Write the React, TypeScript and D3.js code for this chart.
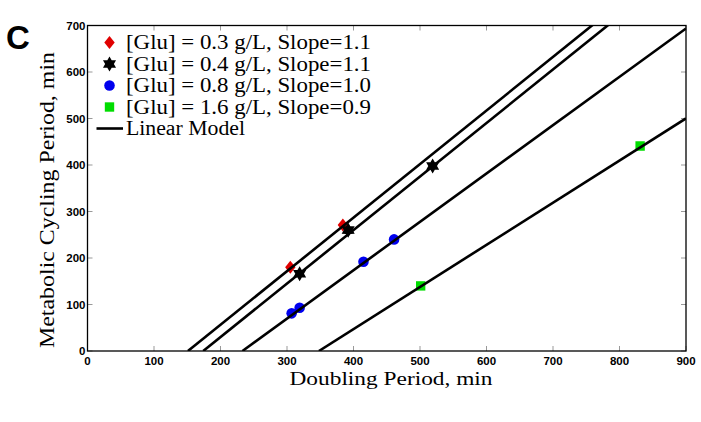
import React from "react";
import * as d3 from "d3";

// values (doubling period vs metabolic cycling period, minutes)
const seriesLabels = [
  "[Glu] = 0.3 g/L, Slope=1.1",
  "[Glu] = 0.4 g/L, Slope=1.1",
  "[Glu] = 0.8 g/L, Slope=1.0",
  "[Glu] = 1.6 g/L, Slope=0.9",
];
const seriesColors = ["#e00000", "#000000", "#0000ee", "#00dd00"];
const seriesShapes = ["diamond", "hexagram", "circle", "square"];

const glu03 = [
  { x: 305, y: 180 },
  { x: 384, y: 271 },
];
const glu04 = [
  { x: 319, y: 166 },
  { x: 392, y: 260 },
  { x: 519, y: 398 },
];
const glu08 = [
  { x: 307, y: 81 },
  { x: 319, y: 93 },
  { x: 415, y: 192 },
  { x: 461, y: 240 },
];
const glu16 = [
  { x: 501, y: 140 },
  { x: 831, y: 441 },
];
const seriesPoints = [glu03, glu04, glu08, glu16];

// linear model fits: x-intercept and slope
const fitIntercepts = [151, 174, 233, 348];
const fitSlopes = [1.152, 1.151, 1.04, 0.906];

const xTicks = [0, 100, 200, 300, 400, 500, 600, 700, 800, 900];
const yTicks = [0, 100, 200, 300, 400, 500, 600, 700];

const width = 701;
const height = 422;
const margin = { top: 25.5, right: 15, bottom: 71, left: 87.5 };

// six-pointed star like matlab's 'h' marker
const hexagram = {
  draw(ctx: any, size: number) {
    const R = Math.sqrt(size / 2.2);
    const r = R * 0.58;
    for (let i = 0; i < 12; i++) {
      const a = (Math.PI / 6) * i - Math.PI / 2;
      const rr = i % 2 === 0 ? R : r;
      const px = rr * Math.cos(a);
      const py = rr * Math.sin(a);
      if (i === 0) ctx.moveTo(px, py);
      else ctx.lineTo(px, py);
    }
    ctx.closePath();
  },
};

function markerPath(shape: string) {
  if (shape === "diamond") {
    // tall narrow diamond
    return "M0,-6.5L5.2,0L0,6.5L-5.2,0Z";
  }
  if (shape === "hexagram") return d3.symbol(hexagram, 125)() as string;
  if (shape === "circle") return d3.symbol(d3.symbolCircle, 88)() as string;
  return d3.symbol(d3.symbolSquare, 88)() as string;
}

export default function App() {
  const x = d3
    .scaleLinear()
    .domain([0, 900])
    .range([margin.left, width - margin.right]);
  const y = d3
    .scaleLinear()
    .domain([0, 700])
    .range([height - margin.bottom, margin.top]);

  const [x0, x1] = x.range();
  const [y0, y1] = y.range();

  const line = d3
    .line<number[]>()
    .x((d) => x(d[0]))
    .y((d) => y(d[1]));

  const fitLines = fitIntercepts.map((b, i) => {
    const m = fitSlopes[i];
    const xEnd = 900;
    return line([
      [b, 0],
      [xEnd, m * (xEnd - b)],
    ]);
  });

  const serif = "'Liberation Serif', 'Times New Roman', serif";
  const sans = "'Liberation Sans', Arial, sans-serif";

  return (
    <svg
      width={width}
      height={height}
      style={{ position: "absolute", left: 0, top: 0, background: "#fff" }}
    >
      <defs>
        <clipPath id="plotClip">
          <rect x={x0} y={y1} width={x1 - x0} height={y0 - y1} />
        </clipPath>
      </defs>

      {/* panel letter */}
      <text x={6} y={49} fontFamily={sans} fontWeight="bold" fontSize={33}>
        C
      </text>

      {/* ticks (inward, on all four sides) */}
      {xTicks.map((t) => (
        <g key={`xt-${t}`} stroke="#999" strokeWidth={1}>
          <line x1={x(t)} x2={x(t)} y1={y0} y2={y0 - 5} />
          <line x1={x(t)} x2={x(t)} y1={y1} y2={y1 + 5} />
        </g>
      ))}
      {yTicks.map((t) => (
        <g key={`yt-${t}`} stroke="#999" strokeWidth={1}>
          <line x1={x0} x2={x0 + 5} y1={y(t)} y2={y(t)} />
          <line x1={x1} x2={x1 - 5} y1={y(t)} y2={y(t)} />
        </g>
      ))}

      {/* markers */}
      {seriesPoints.map((pts, si) => (
        <g key={`s-${si}`} fill={seriesColors[si]} clipPath="url(#plotClip)">
          {pts.map((p, i) => (
            <path
              key={i}
              d={markerPath(seriesShapes[si])}
              transform={`translate(${x(p.x)},${y(p.y)})`}
            />
          ))}
        </g>
      ))}

      {/* linear models */}
      <g clipPath="url(#plotClip)">
        {fitLines.map((d, i) => (
          <path key={`fit-${i}`} d={d || ""} stroke="#000" strokeWidth={2.6} fill="none" />
        ))}
      </g>

      {/* frame */}
      <rect
        x={x0}
        y={y1}
        width={x1 - x0}
        height={y0 - y1}
        fill="none"
        stroke="#000"
        strokeWidth={1.3}
      />

      {/* tick labels */}
      {xTicks.map((t) => (
        <text
          key={`xl-${t}`}
          x={x(t)}
          y={y0 + 13.5}
          textAnchor="middle"
          fontFamily={sans}
          fontWeight="bold"
          fontSize={11.5}
        >
          {t}
        </text>
      ))}
      {yTicks.map((t) => (
        <text
          key={`yl-${t}`}
          x={x0 - 2}
          y={y(t)}
          dy="0.36em"
          textAnchor="end"
          fontFamily={sans}
          fontWeight="bold"
          fontSize={11.5}
        >
          {t}
        </text>
      ))}

      {/* axis titles */}
      <text
        x={391}
        y={385}
        textAnchor="middle"
        fontFamily={serif}
        fontSize={19.5}
        textLength={203}
        lengthAdjust="spacingAndGlyphs"
      >
        Doubling Period, min
      </text>
      <text
        transform={`translate(54,200) rotate(-90)`}
        textAnchor="middle"
        fontFamily={serif}
        fontSize={21}
        textLength={296}
        lengthAdjust="spacingAndGlyphs"
      >
        Metabolic Cycling Period, min
      </text>

      {/* legend */}
      <g>
        {seriesLabels.map((lab, i) => (
          <g key={`lg-${i}`} transform={`translate(0,${42.5 + i * 21.5})`}>
            <path
              d={markerPath(seriesShapes[i])}
              fill={seriesColors[i]}
              transform="translate(109.5,0)"
            />
            <text
              x={126}
              y={0}
              dy="0.33em"
              fontFamily={serif}
              fontSize={20}
              textLength={245}
              lengthAdjust="spacingAndGlyphs"
            >
              {lab}
            </text>
          </g>
        ))}
        <g transform={`translate(0,${42.5 + 4 * 21.5})`}>
          <line x1={96.5} x2={123} stroke="#000" strokeWidth={2.6} />
          <text
            x={126}
            y={0}
            dy="0.33em"
            fontFamily={serif}
            fontSize={20}
            textLength={119}
            lengthAdjust="spacingAndGlyphs"
          >
            Linear Model
          </text>
        </g>
      </g>
    </svg>
  );
}
